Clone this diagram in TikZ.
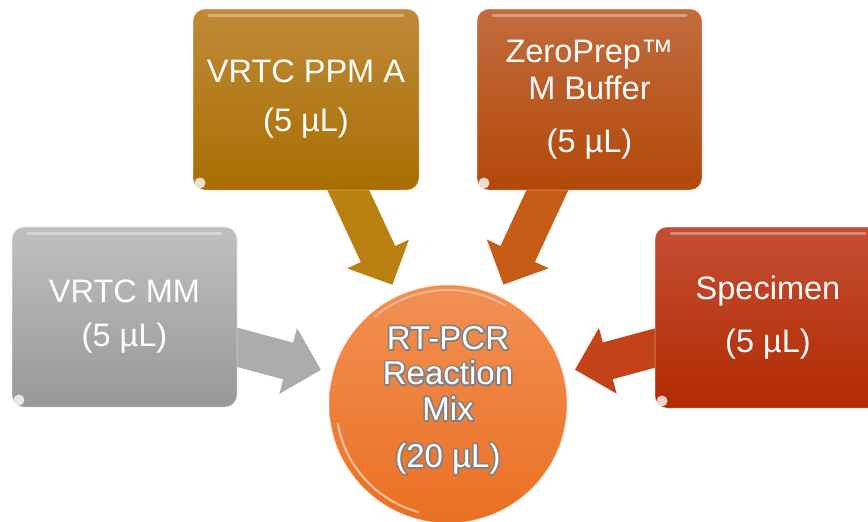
\documentclass[tikz,border=0pt]{standalone}
\usepackage{fontspec}
\setmainfont{Liberation Sans}
\usetikzlibrary{arrows.meta,calc}
\pgfdeclarelayer{bg}
\pgfsetlayers{bg,main}
\definecolor{grayT}{RGB}{192,192,192}
\definecolor{grayB}{RGB}{152,152,152}
\definecolor{goldT}{RGB}{192,138,58}
\definecolor{goldB}{RGB}{168,110,0}
\definecolor{zeroT}{RGB}{194,108,62}
\definecolor{zeroB}{RGB}{178,72,8}
\definecolor{specT}{RGB}{196,78,52}
\definecolor{specB}{RGB}{178,42,0}
\definecolor{mixT}{RGB}{242,144,84}
\definecolor{mixB}{RGB}{234,112,34}
\definecolor{grayA}{RGB}{172,172,172}
\definecolor{goldA}{RGB}{186,128,18}
\definecolor{zeroA}{RGB}{198,92,22}
\definecolor{specA}{RGB}{196,66,24}
\newcommand\strokeonly{\special{pdf:literal direct 1 Tr 0.5 0.5 0.5 RG 3.4 w 1 j}}
\tikzset{
  gloss/.style={path picture={
    \draw[white,opacity=.35,line width=3pt,line cap=round]
      ($(path picture bounding box.north west)+(16,6)$) -- ($(path picture bounding box.north east)+(-16,6)$);
    \fill[white,opacity=.8] ($(path picture bounding box.south west)+(7,-7)$) circle (5.5);
  }},
  srcbox/.style n args={2}{rectangle, rounded corners=12pt, inner sep=0pt,
    top color=#1, bottom color=#2, draw=white, draw opacity=0.3, line width=1pt,
    text=white, align=center, font=\fontsize{32.5}{37}\selectfont, gloss},
  feed/.style={draw=#1, line width=38pt, -{Triangle[length=34pt,width=66pt]}, shorten >=12pt},
  mixtext/.style={align=center, font=\fontsize{33}{35.5}\selectfont},
}
\begin{document}
\begin{tikzpicture}[x=1pt,y=-1pt]
\useasboundingbox (0,0) rectangle (868,522);
\clip (0,0) rectangle (868,522);
% source boxes
\node[srcbox={grayT}{grayB}, minimum width=225pt, minimum height=180pt] (mm) at (124.5,317)
  {VRTC MM\\[7pt](5 µL)};
\node[srcbox={goldT}{goldB}, minimum width=226pt, minimum height=181pt] (ppm) at (306,99.5)
  {VRTC PPM A\\[12pt](5 µL)};
\node[srcbox={zeroT}{zeroB}, minimum width=225pt, minimum height=181pt] (zero) at (589.5,99.5)
  {ZeroPrep™\\M Buffer\\[16pt](5 µL)};
\node[srcbox={specT}{specB}, minimum width=226pt, minimum height=181pt] (spec) at (768,317.5)
  {Specimen\\[16pt](5 µL)};
% reaction mix circle
\node[circle, minimum size=238pt, inner sep=0pt, top color=mixT, bottom color=mixB,
      draw=white, draw opacity=0.35, line width=1pt] (mix) at (448,404) {};
\draw[white, opacity=.55, line width=2pt] (mix.center) ++(190:112pt) arc[start angle=190, end angle=255, radius=112pt];
\draw[white, opacity=.35, line width=2pt] (mix.center) ++(60:114pt) arc[start angle=60, end angle=130, radius=114pt];
\node[mixtext, text=white] (mixoutline) at (448,400)
  {\strokeonly RT-PCR\\\strokeonly Reaction\\\strokeonly Mix\\[11.5pt]\strokeonly (20 µL)};
\node[mixtext, text=white] (mixlabel) at (448,400)
  {RT-PCR\\Reaction\\Mix\\[11.5pt](20 µL)};
% feed arrows
\begin{pgfonlayer}{bg}
\draw[feed=grayA] (mm.center) -- (mix);
\draw[feed=goldA] (ppm.center) -- (mix);
\draw[feed=zeroA] (zero.center) -- (mix);
\draw[feed=specA] (spec.center) -- (mix);
\end{pgfonlayer}
\end{tikzpicture}
\end{document}
